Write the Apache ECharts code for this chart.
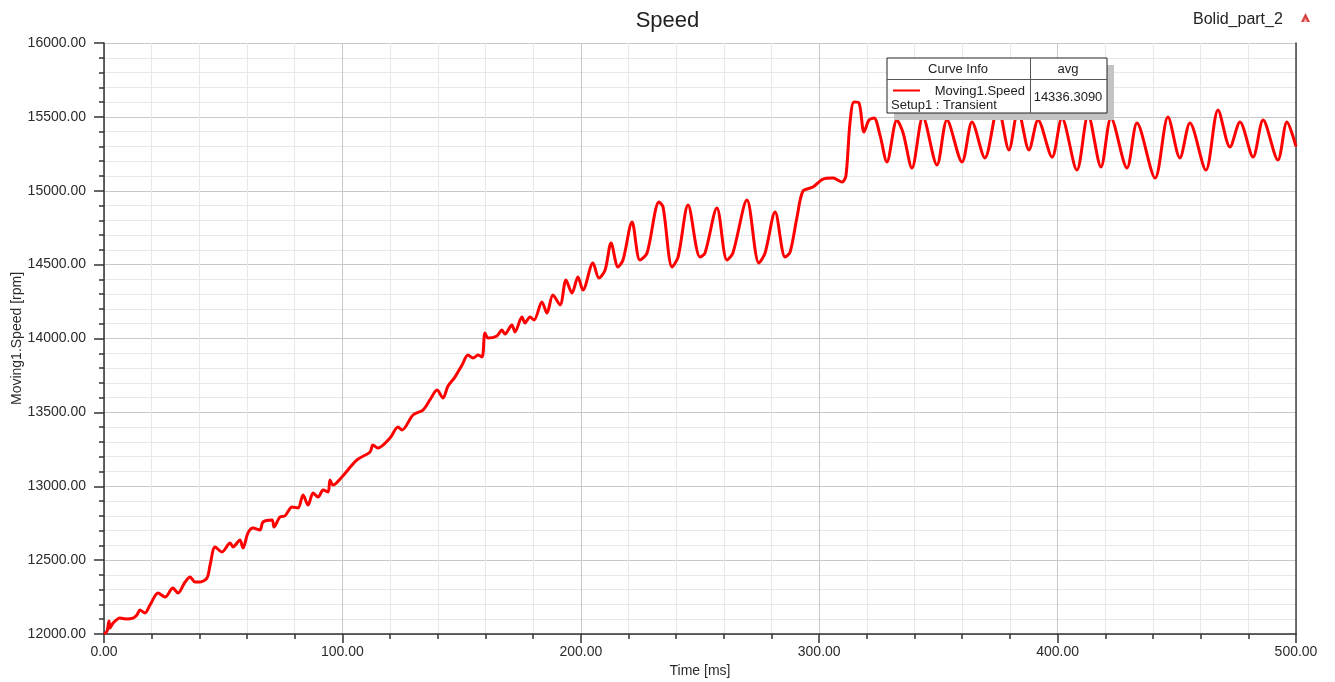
<!DOCTYPE html>
<html>
<head>
<meta charset="utf-8">
<script src="https://cdn.jsdelivr.net/npm/echarts@6/dist/echarts.min.js"></script>
<style>
html,body{margin:0;padding:0;background:#fff;}
#c{width:1335px;height:682px;}
</style>
</head>
<body>
<div id="c"></div>
<script>
// ---- data ----
const timeMs = [
  0,1.3,2.1,2.5,3.8,6.7,9.2,12.2,13.8,15.1,17.2,19.3,22.7,25.6,28.9,31.0,34.0,36.1,38.2,40.3,
  43.2,44.5,46.6,49.5,52.9,54.1,57.0,58.3,60.4,62.5,65.4,66.7,70.5,71.3,73.8,75.9,78.9,81.4,83.5,85.6,
  87.7,89.8,91.9,94.0,94.8,96.1,99.8,106.1,111.6,112.8,114.9,120.0,123.3,125.0,129.6,133.8,136.7,139.7,142.2,144.3,
  147.2,150.2,152.7,154.8,156.9,158.6,159.8,161.1,164.8,166.9,168.2,171.1,172.4,175.3,176.6,178.7,180.4,183.7,185.8,188.3,
  191.3,193.8,196.3,198.8,200.9,205.1,207.6,210.2,212.7,215.6,217.7,221.5,224.8,227.8,232.8,234.5,238.3,240.8,245.0,250.0,
  252.1,257.1,261.3,263.8,269.7,274.7,277.3,281.5,285.7,287.8,290.7,293.2,297.4,301.6,305.8,309.6,311.2,312.9,314.6,316.7,
  318.8,320.9,323.0,325.5,328.4,332.6,335.2,338.9,343.5,349.4,353.6,359.9,364.1,369.5,375.0,379.6,383.4,388.0,391.8,397.7,
  401.8,408.1,412.8,418.2,422.4,429.1,433.3,440.9,446.3,451.3,455.5,462.2,467.3,472.3,476.5,482.0,486.2,492.4,496.2,500.0
];
const speedRpm = [
  12000,12020,12088,12041,12074,12108,12102,12108,12129,12162,12142,12196,12277,12250,12311,12277,12352,12386,12352,12352,
  12379,12467,12589,12555,12616,12589,12636,12582,12684,12717,12704,12758,12772,12724,12792,12799,12860,12853,12941,12873,
  12954,12927,12975,12961,13042,13008,13063,13178,13232,13279,13259,13327,13401,13381,13482,13516,13584,13651,13597,13678,
  13739,13821,13888,13868,13888,13875,14037,14003,14017,14057,14030,14091,14044,14145,14105,14145,14125,14247,14172,14294,
  14227,14396,14308,14416,14328,14511,14409,14464,14646,14484,14531,14788,14531,14579,14924,14890,14484,14551,14904,14551,
  14579,14883,14531,14579,14937,14511,14579,14856,14551,14585,14822,14998,15025,15079,15086,15059,15100,15458,15601,15594,
  15398,15479,15492,15377,15195,15479,15391,15154,15499,15174,15479,15195,15465,15222,15567,15276,15547,15276,15479,15228,
  15492,15140,15513,15161,15492,15154,15458,15086,15499,15222,15458,15140,15547,15296,15465,15228,15479,15208,15465,15300
];
const xTickValues = [0, 100, 200, 300, 400, 500];
const yTickValues = [12000, 12500, 13000, 13500, 14000, 14500, 15000, 15500, 16000];
const chartTitle = 'Speed';
const projectName = 'Bolid_part_2';
const xAxisName = 'Time [ms]';
const yAxisName = 'Moving1.Speed [rpm]';
const legendHeaders = ['Curve Info', 'avg'];
const curveName = 'Moving1.Speed';
const curveSetup = 'Setup1 : Transient';
const curveAvg = '14336.3090';

// ---- chart ----
const points = timeMs.map((t, i) => [t, speedRpm[i]]);
const FONT = '"Liberation Sans", Arial, sans-serif';
const TXT = '#2b2b2b';

const chart = echarts.init(document.getElementById('c'), null, {renderer: 'canvas'});
chart.setOption({
  animation: false,
  backgroundColor: '#ffffff',
  grid: {left: 104, right: 39, top: 43, bottom: 48, containLabel: false, outerBoundsMode: 'none'},
  xAxis: {
    type: 'value',
    min: xTickValues[0], max: xTickValues[xTickValues.length - 1],
    interval: xTickValues[1] - xTickValues[0],
    name: xAxisName, nameLocation: 'middle', nameGap: 30, nameMoveOverlap: false,
    nameTextStyle: {color: TXT, fontFamily: FONT, fontSize: 14},
    axisLine: {show: true, onZero: false, lineStyle: {color: '#333', width: 1.5}},
    axisTick: {show: true, length: 9, lineStyle: {color: '#333', width: 1.5}},
    minorTick: {show: true, splitNumber: 5, length: 5, lineStyle: {color: '#333', width: 1.5}},
    axisLabel: {color: TXT, fontFamily: FONT, fontSize: 14, margin: 11,
      formatter: v => v.toFixed(2)},
    splitLine: {show: true, lineStyle: {color: '#c8c8c8', width: 1}},
    minorSplitLine: {show: true, lineStyle: {color: '#e8e8e8', width: 1}}
  },
  yAxis: [{
    type: 'value',
    min: yTickValues[0], max: yTickValues[yTickValues.length - 1],
    interval: yTickValues[1] - yTickValues[0],
    name: yAxisName, nameLocation: 'middle', nameGap: 80, nameRotate: 90, nameMoveOverlap: false,
    nameTextStyle: {color: TXT, fontFamily: FONT, fontSize: 14},
    axisLine: {show: true, onZero: false, lineStyle: {color: '#333', width: 1.5}},
    axisTick: {show: true, length: 10, lineStyle: {color: '#333', width: 1.5}},
    minorTick: {show: true, splitNumber: 5, length: 5, lineStyle: {color: '#333', width: 1.5}},
    axisLabel: {color: TXT, fontFamily: FONT, fontSize: 14, margin: 18,
      formatter: v => v.toFixed(2)},
    splitLine: {show: true, lineStyle: {color: '#c8c8c8', width: 1}},
    minorSplitLine: {show: true, lineStyle: {color: '#e8e8e8', width: 1}}
  }, {
    type: 'value', position: 'right',
    min: yTickValues[0], max: yTickValues[yTickValues.length - 1],
    axisLine: {show: true, onZero: false, lineStyle: {color: '#444', width: 1.5}},
    axisTick: {show: false}, axisLabel: {show: false}, splitLine: {show: false}
  }],
  series: [{
    type: 'line',
    name: curveName,
    data: points,
    yAxisIndex: 0,
    showSymbol: false,
    smooth: 0.3,
    lineStyle: {color: '#ff0000', width: 3},
    z: 5
  }],
  graphic: [
    {type: 'text', left: 'center', top: 10, z: 100,
      style: {text: chartTitle, fill: '#222', font: '22px ' + FONT}},
    {type: 'text', x: 1193, y: 12, z: 100,
      style: {text: projectName, fill: '#222', font: '16px ' + FONT}},
    {type: 'polygon', z: 100, shape: {points: [[1301, 22], [1305.5, 13], [1310, 22]]},
      style: {fill: '#d84040'}},
    {type: 'polygon', z: 101, shape: {points: [[1303.5, 22], [1305.5, 18], [1307.5, 22]]},
      style: {fill: '#f4b0b0'}},
    // legend box shadow
    {type: 'rect', z: 100, shape: {x: 894, y: 65, width: 220, height: 55},
      style: {fill: '#c4c4c4'}},
    {type: 'rect', z: 101, shape: {x: 887, y: 58, width: 220, height: 55},
      style: {fill: '#ffffff', stroke: '#222', lineWidth: 1}},
    {type: 'line', z: 102, shape: {x1: 887, y1: 79.5, x2: 1107, y2: 79.5},
      style: {stroke: '#555', lineWidth: 1}},
    {type: 'line', z: 102, shape: {x1: 1030.5, y1: 58, x2: 1030.5, y2: 113},
      style: {stroke: '#555', lineWidth: 1}},
    {type: 'text', z: 102, x: 958, y: 69,
      style: {text: legendHeaders[0], fill: '#222', font: '13px ' + FONT, align: 'center', verticalAlign: 'middle'}},
    {type: 'text', z: 102, x: 1068, y: 69,
      style: {text: legendHeaders[1], fill: '#222', font: '13px ' + FONT, align: 'center', verticalAlign: 'middle'}},
    {type: 'line', z: 102, shape: {x1: 893, y1: 90.5, x2: 920, y2: 90.5},
      style: {stroke: '#ff0000', lineWidth: 2}},
    {type: 'text', z: 102, x: 1025, y: 91,
      style: {text: curveName, fill: '#222', font: '13px ' + FONT, align: 'right', verticalAlign: 'middle'}},
    {type: 'text', z: 102, x: 891, y: 105,
      style: {text: curveSetup, fill: '#222', font: '13px ' + FONT, align: 'left', verticalAlign: 'middle'}},
    {type: 'text', z: 102, x: 1068, y: 97,
      style: {text: curveAvg, fill: '#222', font: '13px ' + FONT, align: 'center', verticalAlign: 'middle'}}
  ]
});
</script>
</body>
</html>
